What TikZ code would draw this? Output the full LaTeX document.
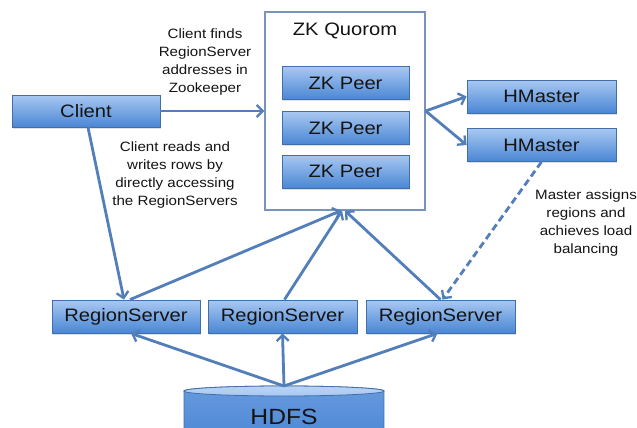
\documentclass[tikz,border=0pt]{standalone}
\usepackage{fontspec}
\setmainfont{Liberation Sans}[FakeStretch=1.12]
\usetikzlibrary{arrows.meta,shadows,calc}
\definecolor{boxtop}{RGB}{168,200,242}
\definecolor{boxbot}{RGB}{74,134,212}
\definecolor{boxline}{RGB}{66,110,170}
\definecolor{arrcol}{RGB}{82,126,186}
\definecolor{zkline}{RGB}{120,148,186}
\definecolor{txt}{RGB}{20,20,20}
\tikzset{
  bluebox/.style={rectangle, draw=boxline, line width=0.8pt, top color=boxtop, bottom color=boxbot,
    text=txt, font=\fontsize{18}{20}\selectfont, inner sep=0pt,
    drop shadow={opacity=0.25, shadow xshift=1.2pt, shadow yshift=-1.5pt}},
  lbl/.style={align=center, text=txt, font=\fontsize{13.5}{18}\selectfont, inner sep=0pt},
  arr/.style={draw=arrcol, line width=2.8pt, -{Straight Barb[length=6pt,width=12pt,line width=2.3pt]}},
  dasharr/.style={arr, dash pattern=on 7pt off 4pt}
}
\begin{document}
\begin{tikzpicture}[x=1pt,y=-1pt]
\useasboundingbox (0,0) rectangle (637,428);
\clip (0,0) rectangle (637,428);
\fill[white] (0,0) rectangle (637,428);

% ZK Quorom box
\node[draw=zkline, line width=1.3pt, fill=white, minimum width=160pt, minimum height=198pt, inner sep=0pt] (zk) at (345,111) {};
\node[text=txt, font=\fontsize{18}{20}\selectfont, inner sep=0pt] (zktitle) at (345,31) {ZK Quorom};
\node[bluebox, minimum width=127pt, minimum height=33pt] (p1) at (345.5,83) {ZK Peer};
\node[bluebox, minimum width=127pt, minimum height=33pt] (p2) at (345.5,128) {ZK Peer};
\node[bluebox, minimum width=127pt, minimum height=33pt] (p3) at (345.5,171.5) {ZK Peer};

% Client and HMasters
\node[bluebox, minimum width=148pt, minimum height=32pt] (client) at (86,111) {Client};
\node[bluebox, minimum width=149pt, minimum height=33pt] (hm1) at (541.5,96.5) {HMaster};
\node[bluebox, minimum width=149pt, minimum height=33pt] (hm2) at (541.5,145) {HMaster};

% RegionServers
\node[bluebox, minimum width=148pt, minimum height=33pt] (rs1) at (126,316.5) {RegionServer};
\node[bluebox, minimum width=149pt, minimum height=33pt] (rs2) at (282.5,316.5) {RegionServer};
\node[bluebox, minimum width=149pt, minimum height=33pt] (rs3) at (440.5,316.5) {RegionServer};

% HDFS cylinder
\path[draw=boxline, line width=0.8pt, top color=boxbot!70!boxtop, bottom color=boxbot]
  (184,391) -- (184,445) -- (384,445) -- (384,391) arc[start angle=0, end angle=180, x radius=100pt, y radius=5pt] -- cycle;
\path[draw=boxline, line width=0.8pt, top color=boxtop!80!white, bottom color=boxtop]
  (284,391) ellipse [x radius=100pt, y radius=5pt];
\coordinate (hdfstop) at (284,386);
\node[text=txt, font=\fontsize{22}{24}\selectfont, inner sep=0pt] (hdfs) at (284,417) {HDFS};

% Labels
\node[lbl] (l1) at (205,62) {Client finds\\RegionServer\\addresses in\\Zookeeper};
\node[lbl] (l2) at (175,175) {Client reads and\\writes rows by\\directly accessing\\the RegionServers};
\node[lbl] (l3) at (586,223) {Master assigns\\regions and\\achieves load\\balancing};

% Connectors
\draw[arr] (client.east) -- (client.east -| zk.west);
\draw[arr] (zk.east) -- (hm1.west);
\draw[arr] (zk.east) -- (hm2.west);
\draw[arr] ($(client.south)+(2,0)$) -- ($(rs1.north)+(-2,0)$);
\draw[arr] ($(rs1.north)+(4,0)$) -- ($(zk.south)+(-4,0)$);
\draw[arr] ($(rs2.north)+(2,0)$) -- ($(zk.south)+(-3,0)$);
\draw[arr] (rs3.north) -- ($(zk.south)+(0,0)$);
\draw[dasharr] (hm2.south) -- ($(rs3.north)+(2,0)$);
\draw[arr] (hdfstop) -- ($(rs1.south)+(5,0)$);
\draw[arr] (hdfstop) -- (rs2.south);
\draw[arr] (hdfstop) -- ($(rs3.south)+(-3,0)$);
\end{tikzpicture}
\end{document}
